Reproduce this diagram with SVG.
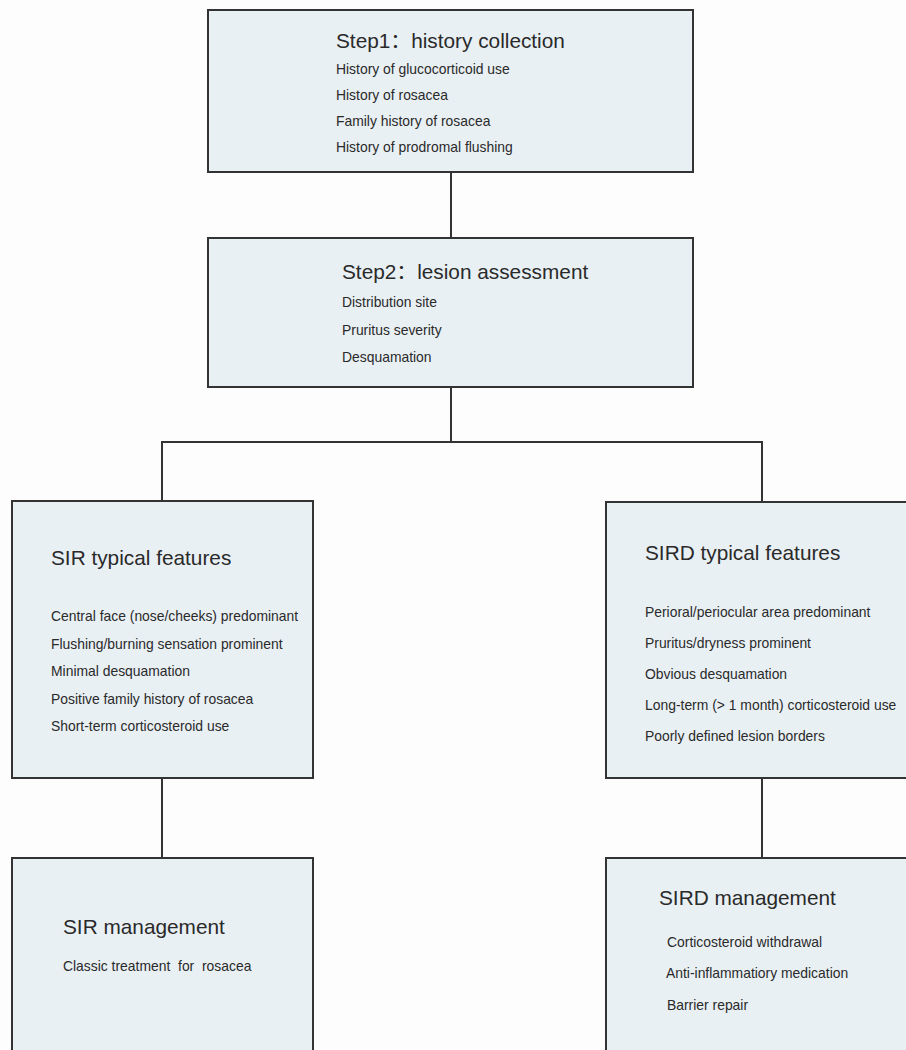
<svg xmlns="http://www.w3.org/2000/svg" width="906" height="1050" viewBox="0 0 906 1050">
<style>
.box{fill:#e9f0f4;stroke:#333;stroke-width:2}
.conn{fill:none;stroke:#333;stroke-width:2}
.t{font-family:"Liberation Sans","Noto Sans CJK SC",Arial,sans-serif;fill:#2a2a2a;white-space:pre}
.h{font-size:20.8px}
.i{font-size:13.9px}
</style>
<rect width="906" height="1050" fill="#fdfdfd"/>
<g id="connectors">
<line class="conn" x1="451" y1="172" x2="451" y2="238"/>
<line class="conn" x1="451" y1="387" x2="451" y2="442"/>
<polyline class="conn" points="162,501 162,442 762,442 762,502"/>
<line class="conn" x1="162" y1="778" x2="162" y2="858"/>
<line class="conn" x1="762" y1="778" x2="762" y2="858"/>
</g>
<g id="step1">
<rect class="box" x="208" y="10" width="485" height="162"/>
<text class="t h" x="336" y="48">Step1：history collection</text>
<text class="t i" x="336" y="74">History of glucocorticoid use</text>
<text class="t i" x="336" y="100">History of rosacea</text>
<text class="t i" x="336" y="126">Family history of rosacea</text>
<text class="t i" x="336" y="152">History of prodromal flushing</text>
</g>
<g id="step2">
<rect class="box" x="208" y="238" width="485" height="149"/>
<text class="t h" x="342" y="279">Step2：lesion assessment</text>
<text class="t i" x="342" y="307">Distribution site</text>
<text class="t i" x="342" y="335">Pruritus severity</text>
<text class="t i" x="342" y="362">Desquamation</text>
</g>
<g id="sir-features">
<rect class="box" x="12" y="501" width="301" height="277"/>
<text class="t h" x="51" y="565">SIR typical features</text>
<text class="t i" x="51" y="621">Central face (nose/cheeks) predominant</text>
<text class="t i" x="51" y="649">Flushing/burning sensation prominent</text>
<text class="t i" x="51" y="676">Minimal desquamation</text>
<text class="t i" x="51" y="704">Positive family history of rosacea</text>
<text class="t i" x="51" y="731">Short-term corticosteroid use</text>
</g>
<g id="sird-features">
<rect class="box" x="606" y="502" width="310" height="276"/>
<text class="t h" x="645" y="560">SIRD typical features</text>
<text class="t i" x="645" y="617">Perioral/periocular area predominant</text>
<text class="t i" x="645" y="648">Pruritus/dryness prominent</text>
<text class="t i" x="645" y="679">Obvious desquamation</text>
<text class="t i" x="645" y="710">Long-term (&gt; 1 month) corticosteroid use</text>
<text class="t i" x="645" y="741">Poorly defined lesion borders</text>
</g>
<g id="sir-management">
<rect class="box" x="12" y="858" width="301" height="210"/>
<text class="t h" x="63" y="934">SIR management</text>
<text class="t i" x="63" y="971">Classic treatment  for  rosacea</text>
</g>
<g id="sird-management">
<rect class="box" x="606" y="858" width="310" height="210"/>
<text class="t h" x="659" y="905">SIRD management</text>
<text class="t i" x="667" y="947">Corticosteroid withdrawal</text>
<text class="t i" x="666" y="978">Anti-inflammatiory medication</text>
<text class="t i" x="667" y="1010">Barrier repair</text>
</g>
</svg>
